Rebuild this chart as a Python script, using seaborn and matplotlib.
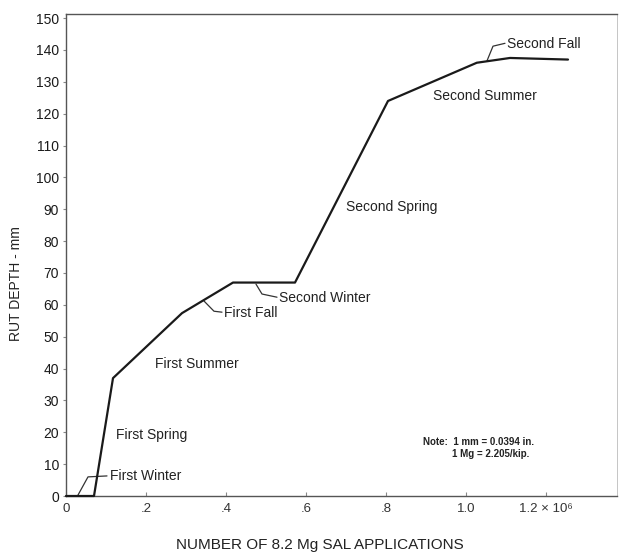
import matplotlib
matplotlib.use("Agg")
import matplotlib.pyplot as plt
import seaborn as sns
import pandas as pd

# Data
applications = [0.0, 0.07, 0.1175, 0.29, 0.4175, 0.5725, 0.805, 1.027, 1.11, 1.255]  # x 10^6
rut_depth = [0.0, 0.0, 37.0, 57.4, 67.0, 67.0, 124.0, 136.0, 137.5, 137.0]        # mm

x_ticks = [0, 0.2, 0.4, 0.6, 0.8, 1.0, 1.2]
x_tick_labels = ["0", ".2", ".4", ".6", ".8", "1.0", "1.2 \u00d7 10\u2076"]
y_ticks = list(range(0, 151, 10))

season_labels = ["First Winter", "First Spring", "First Summer", "First Fall",
                 "Second Winter", "Second Spring", "Second Summer", "Second Fall"]
label_x = [0.11, 0.125, 0.2225, 0.395, 0.5325, 0.70, 0.9175, 1.1025]
label_y = [6.3, 19.1, 41.4, 57.4, 62.1, 90.7, 125.5, 141.8]

# leader lines (season name -> curve)
leaders = {
    "First Winter": ([0.03, 0.055, 0.1025], [0.3, 6.0, 6.3]),
    "First Fall": ([0.345, 0.37, 0.39], [61.2, 58.0, 57.7]),
    "Second Winter": ([0.475, 0.49, 0.5275], [66.5, 63.4, 62.4]),
    "Second Fall": ([1.0525, 1.0675, 1.0975], [136.6, 141.2, 142.1]),
}

sns.set_style("ticks")
plt.rcParams["font.family"] = ["Liberation Sans", "DejaVu Sans"]

fig = plt.figure(figsize=(6.21, 5.52), dpi=100)
ax = fig.add_axes([66 / 621, 1 - 496 / 552, (617 - 66) / 621, (496 - 14) / 552])

df = pd.DataFrame({"applications": applications, "rut": rut_depth})
sns.lineplot(data=df, x="applications", y="rut", ax=ax, color="#1a1a1a",
             linewidth=1.6, sort=False, estimator=None, clip_on=False, zorder=3)

for name, (lx, ly) in leaders.items():
    ax.plot(lx, ly, color="#333333", linewidth=0.9, clip_on=False, zorder=2)

for name, tx, ty in zip(season_labels, label_x, label_y):
    ax.text(tx, ty, name, fontsize=10, color="#222222", ha="left", va="center")

ax.text(0.8925, 16.9, "Note:  1 mm = 0.0394 in.", fontsize=7, color="#222222",
        ha="left", va="center", fontweight="bold")
ax.text(0.965, 13.2, "1 Mg = 2.205/kip.", fontsize=7, color="#222222",
        ha="left", va="center", fontweight="bold")

ax.set_xlim(0, 1.3775)
ax.set_ylim(0, 151.3)
ax.set_xticks(x_ticks)
ax.set_xticklabels(x_tick_labels, fontsize=9.5, color="#333333")
ax.set_yticks(y_ticks)
ax.set_yticklabels([str(v) for v in y_ticks], fontsize=10, color="#1a1a1a")
ax.tick_params(axis="x", direction="in", length=3, width=0.8, color="#888888", pad=5)
ax.tick_params(axis="y", direction="out", length=2, width=0.8, color="#888888", pad=3)

for side in ["left", "right", "top", "bottom"]:
    ax.spines[side].set_visible(True)
    ax.spines[side].set_color("#555555")
    ax.spines[side].set_linewidth(1.0)
ax.spines["right"].set_color("#bbbbbb")
ax.spines["right"].set_linewidth(0.6)

ax.set_xlabel("")
ax.set_ylabel("RUT DEPTH - mm", fontsize=10, color="#222222")
ax.yaxis.set_label_coords(-0.078, 0.44)

fig.text(320 / 621, 1 - 545 / 552, "NUMBER OF 8.2 Mg SAL APPLICATIONS",
         fontsize=11, color="#222222", ha="center", va="center")

fig.savefig("out.png", dpi=100, facecolor="white")
